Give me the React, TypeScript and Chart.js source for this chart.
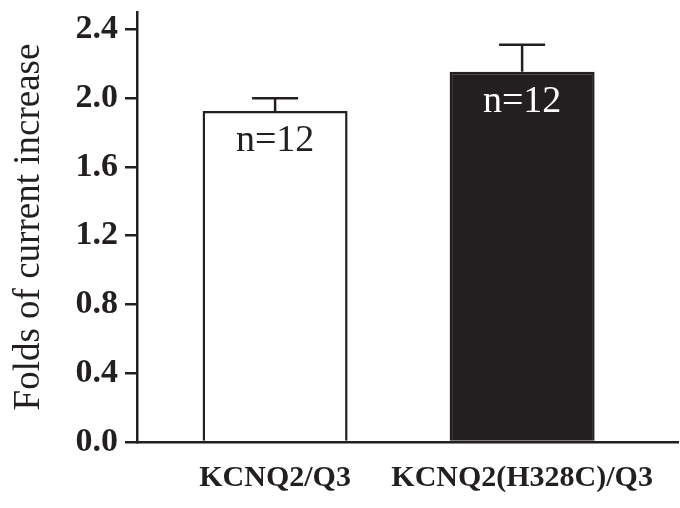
import React, { useEffect, useRef } from "react";
import { Chart, registerables } from "chart.js";

Chart.register(...registerables);

const categories = ["KCNQ2/Q3", "KCNQ2(H328C)/Q3"];
const values = [1.925, 2.152];
const errors = [0.073, 0.158];
const nLabels = ["n=12", "n=12"];
const yTicks = [0, 0.4, 0.8, 1.2, 1.6, 2.0, 2.4];
const barFills = ["#ffffff", "#231f20"];
const textColors = ["#231f20", "#ffffff"];

const INK = "#231f20";
const SERIF = "'Liberation Serif', 'Times New Roman', serif";

const annotatePlugin = {
  id: "annotate",
  afterDatasetsDraw(chart: any) {
    const ctx = chart.ctx;
    const meta = chart.getDatasetMeta(0);
    const yScale = chart.scales.y;
    ctx.save();
    meta.data.forEach((bar: any, i: number) => {
      const x = bar.x;
      const top = yScale.getPixelForValue(values[i]);
      const errTop = yScale.getPixelForValue(values[i] + errors[i]);
      ctx.strokeStyle = INK;
      ctx.lineWidth = 2.5;
      ctx.beginPath();
      ctx.moveTo(x, top);
      ctx.lineTo(x, errTop);
      ctx.moveTo(x - 23, errTop);
      ctx.lineTo(x + 23, errTop);
      ctx.stroke();
      ctx.fillStyle = textColors[i];
      ctx.font = `38px ${SERIF}`;
      ctx.textAlign = "center";
      ctx.textBaseline = "middle";
      ctx.fillText(nLabels[i], x, top + 30);
    });
    ctx.restore();
  },
};

export default function App() {
  const ref = useRef<HTMLCanvasElement>(null);
  useEffect(() => {
    if (!ref.current) return;
    const chart = new Chart(ref.current, {
      type: "bar",
      data: {
        datasets: [
          {
            data: values.map((v, i) => ({ x: i + 1, y: v })),
            backgroundColor: barFills,
            borderColor: INK,
            borderWidth: 2.5,
            categoryPercentage: 1,
            barPercentage: 0.587,
          },
        ],
      },
      options: {
        animation: false,
        responsive: false,
        layout: { padding: { top: 12, right: 2, left: 0, bottom: 0 } },
        plugins: { legend: { display: false }, tooltip: { enabled: false } },
        scales: {
          x: {
            type: "linear",
            offset: false,
            min: 0.441,
            max: 2.631,
            grid: { display: false, drawTicks: false, offset: false },
            border: { display: true, color: INK, width: 2.5 },
            afterBuildTicks: (s: any) => {
              s.ticks = categories.map((_, i) => ({ value: i + 1 }));
            },
            afterFit: (s: any) => {
              s.height = 66;
              s.paddingLeft = 0;
              s.paddingRight = 0;
            },
            ticks: {
              autoSkip: false,
              maxRotation: 0,
              minRotation: 0,
              padding: 18,
              color: INK,
              font: { family: SERIF, size: 30, weight: "bold" },
              callback: (v: any) => categories[Math.round(v) - 1] ?? "",
            },
          },
          y: {
            min: 0,
            max: 2.5,
            grid: {
              drawOnChartArea: false,
              drawTicks: true,
              tickLength: 12,
              color: INK,
              lineWidth: 2.5,
            },
            border: { display: true, color: INK, width: 2.5 },
            afterBuildTicks: (s: any) => {
              s.ticks = yTicks.map((v) => ({ value: v }));
            },
            afterFit: (s: any) => {
              s.width = 137;
              s.paddingTop = 0;
              s.paddingBottom = 0;
            },
            ticks: {
              padding: 7,
              color: INK,
              font: { family: SERIF, size: 34, weight: "bold" },
              callback: (v: any) => Number(v).toFixed(1),
            },
            title: {
              display: true,
              text: "Folds of current increase",
              color: INK,
              font: { family: SERIF, size: 37 },
              padding: { top: 7, bottom: 0 },
            },
          },
        },
      },
      plugins: [annotatePlugin],
    } as any);
    return () => chart.destroy();
  }, []);
  return (
    <div style={{ position: "fixed", left: 0, top: 0, width: 680, height: 508, background: "#fff" }}>
      <canvas ref={ref} width={680} height={508} style={{ display: "block" }} />
    </div>
  );
}
